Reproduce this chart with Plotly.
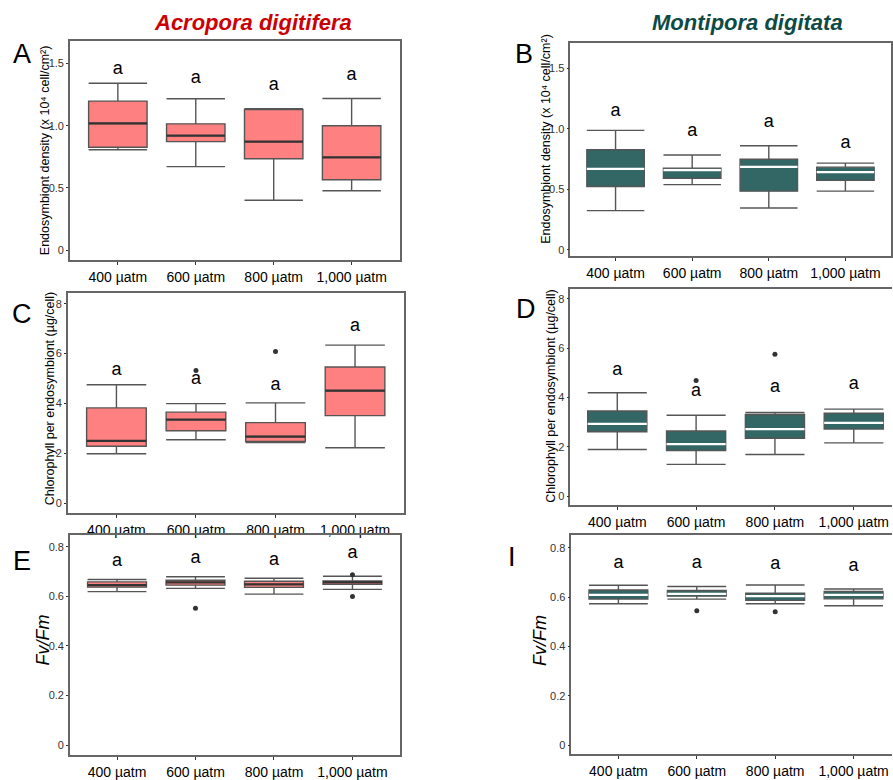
import plotly.graph_objects as go

W, H = 893, 780

categories = ["400 µatm", "600 µatm", "800 µatm", "1,000 µatm"]
positions = [0, 1, 2, 3]

# Panel A - Acropora endosymbiont density
A_low = [0.806, 0.671, 0.400, 0.477]
A_q1 = [0.827, 0.872, 0.734, 0.565]
A_med = [1.018, 0.920, 0.872, 0.745]
A_q3 = [1.198, 1.015, 1.130, 0.999]
A_up = [1.341, 1.217, 1.137, 1.219]
A_letter_y = [1.45, 1.38, 1.32, 1.40]
A_out_x, A_out_y = [], []

# Panel B - Montipora endosymbiont density
B_low = [0.323, 0.538, 0.345, 0.484]
B_q1 = [0.522, 0.590, 0.484, 0.573]
B_med = [0.668, 0.658, 0.685, 0.641]
B_q3 = [0.826, 0.674, 0.747, 0.682]
B_up = [0.986, 0.783, 0.859, 0.715]
B_letter_y = [1.14, 0.98, 1.05, 0.88]
B_out_x, B_out_y = [], []

# Panel C - Acropora chlorophyll
C_low = [1.98, 2.54, 2.43, 2.22]
C_q1 = [2.28, 2.90, 2.47, 3.51]
C_med = [2.50, 3.35, 2.67, 4.51]
C_q3 = [3.82, 3.65, 3.23, 5.46]
C_up = [4.75, 3.99, 4.02, 6.34]
C_letter_y = [5.34, 4.96, 4.72, 7.08]
C_out_x, C_out_y = [1, 2], [5.32, 6.08]

# Panel D - Montipora chlorophyll
D_low = [1.89, 1.29, 1.69, 2.16]
D_q1 = [2.61, 1.85, 2.35, 2.72]
D_med = [2.93, 2.11, 2.72, 2.97]
D_q3 = [3.45, 2.64, 3.31, 3.36]
D_up = [4.19, 3.28, 3.39, 3.53]
D_letter_y = [5.08, 4.24, 4.41, 4.52]
D_out_x, D_out_y = [1, 2], [4.69, 5.75]

# Panel E - Acropora Fv/Fm
E_low = [0.619, 0.632, 0.609, 0.628]
E_q1 = [0.637, 0.645, 0.636, 0.648]
E_med = [0.645, 0.656, 0.648, 0.656]
E_q3 = [0.658, 0.665, 0.661, 0.662]
E_up = [0.668, 0.679, 0.673, 0.681]
E_letter_y = [0.742, 0.754, 0.744, 0.771]
E_out_x, E_out_y = [1, 3, 3], [0.552, 0.687, 0.599]

# Panel F - Montipora Fv/Fm
F_low = [0.573, 0.592, 0.573, 0.565]
F_q1 = [0.592, 0.604, 0.587, 0.593]
F_med = [0.609, 0.613, 0.604, 0.609]
F_q3 = [0.629, 0.627, 0.616, 0.623]
F_up = [0.648, 0.643, 0.649, 0.633]
F_letter_y = [0.736, 0.736, 0.733, 0.723]
F_out_x, F_out_y = [1, 2], [0.545, 0.541]

RED = "#FF8080"
TEAL = "#336766"
FONT = "Liberation Sans, Arial, sans-serif"

panels = [
    ("A", (A_low, A_q1, A_med, A_q3, A_up, A_letter_y, A_out_x, A_out_y), RED, "#333333",
     (70, 400, 41, 263), [-0.08, 1.685], [-0.615, 3.615], [0, 0.5, 1.0, 1.5], ["0", "0.5", "1.0", "1.5"], True),
    ("B", (B_low, B_q1, B_med, B_q3, B_up, B_letter_y, B_out_x, B_out_y), TEAL, "white",
     (571, 892, 43, 259), [-0.052, 1.712], [-0.59, 3.595], [0, 0.5, 1.0, 1.5], ["0", "0.5", "1.0", "1.5"], True),
    ("C", (C_low, C_q1, C_med, C_q3, C_up, C_letter_y, C_out_x, C_out_y), RED, "#333333",
     (68, 404, 296, 519), [-0.40, 8.45], [-0.61, 3.61], [0, 2, 4, 6, 8], ["0", "2", "4", "6", "8"], True),
    ("D", (D_low, D_q1, D_med, D_q3, D_up, D_letter_y, D_out_x, D_out_y), TEAL, "white",
     (571, 893, 292, 511), [-0.36, 8.41], [-0.595, 3.485], [0, 2, 4, 6, 8], ["0", "2", "4", "6", "8"], False),
    ("E", (E_low, E_q1, E_med, E_q3, E_up, E_letter_y, E_out_x, E_out_y), RED, "#333333",
     (70, 400, 541, 764), [-0.04, 0.848], [-0.6, 3.6], [0, 0.2, 0.4, 0.6, 0.8], ["0", "0.2", "0.4", "0.6", "0.8"], True),
    ("F", (F_low, F_q1, F_med, F_q3, F_up, F_letter_y, F_out_x, F_out_y), TEAL, "white",
     (572, 893, 541, 763), [-0.037, 0.853], [-0.6, 3.49], [0, 0.2, 0.4, 0.6, 0.8], ["0", "0.2", "0.4", "0.6", "0.8"], False),
]

fig = go.Figure()
layout = {}
BOXW = 0.75

for i, (name, data, fill, medc, box, yr, xr, yt, ytt, right) in enumerate(panels):
    low, q1, med, q3, up, ly, ox, oy = data
    n = "" if i == 0 else str(i + 1)
    xa, ya = "x" + n, "y" + n
    fig.add_trace(go.Box(
        x=positions, q1=q1, median=med, q3=q3, lowerfence=low, upperfence=up,
        width=BOXW, whiskerwidth=1, fillcolor=fill,
        line=dict(color="#555555", width=1.4), boxpoints=False,
        xaxis=xa, yaxis=ya, showlegend=False, hoverinfo="skip"))
    mx, my = [], []
    for p, m in zip(positions, med):
        mx += [p - BOXW / 2, p + BOXW / 2, None]
        my += [m, m, None]
    fig.add_trace(go.Scatter(x=mx, y=my, mode="lines", line=dict(color=medc, width=2.2),
                             xaxis=xa, yaxis=ya, showlegend=False, hoverinfo="skip"))
    if ox:
        fig.add_trace(go.Scatter(x=ox, y=oy, mode="markers",
                                 marker=dict(color="#333333", size=5),
                                 xaxis=xa, yaxis=ya, showlegend=False, hoverinfo="skip"))
    fig.add_trace(go.Scatter(x=positions, y=ly, mode="text", text=["a"] * 4,
                             textfont=dict(family=FONT, size=18, color="black"),
                             textposition="middle center",
                             xaxis=xa, yaxis=ya, showlegend=False, hoverinfo="skip"))
    x0, x1, y0, y1 = box
    layout["xaxis" + n] = dict(
        domain=[x0 / W, min(x1 / W, 1.0)], range=xr, anchor=ya,
        tickvals=positions, ticktext=categories, ticks="outside", ticklen=3,
        tickcolor="#333333", tickfont=dict(family=FONT, size=14, color="black"),
        showline=True, linecolor="#666666", linewidth=1.5, mirror=True,
        showgrid=False, zeroline=False, fixedrange=True)
    layout["yaxis" + n] = dict(
        domain=[1 - y1 / H, 1 - y0 / H], range=yr, anchor=xa,
        tickvals=yt, ticktext=ytt, ticks="outside", ticklen=2,
        tickcolor="#333333", tickfont=dict(family=FONT, size=11, color="#333333"),
        showline=True, linecolor="#666666", linewidth=1.5, mirror=right,
        showgrid=False, zeroline=False, fixedrange=True)

annotations = []

def ann(text, x, y, size, color="black", angle=0, italic=False, bold=False):
    t = text
    if bold:
        t = "<b>" + t + "</b>"
    if italic:
        t = "<i>" + t + "</i>"
    annotations.append(dict(text=t, x=x / W, y=1 - y / H, xref="paper", yref="paper",
                            xanchor="center", yanchor="middle", showarrow=False,
                            textangle=angle, font=dict(family=FONT, size=size, color=color)))

ann("Acropora digitifera", 253, 23, 22, color="#CC0000", italic=True, bold=True)
ann("Montipora digitata", 748, 23, 22, color="#0E4A45", italic=True, bold=True)

ann("A", 22, 55, 27)
ann("B", 525, 55, 27)
ann("C", 22, 318, 27)
ann("D", 527, 313, 27)
ann("E", 22, 568, 27)
ann("I", 513, 564, 27)

ytitle_endo = "Endosymbiont density (x 10⁴ cell/cm²)"
ytitle_chl = "Chlorophyll per endosymbiont (µg/cell)"
ann(ytitle_endo, 45, 152, 12.5, angle=-90)
ann(ytitle_endo, 547, 140, 12.5, angle=-90)
ann(ytitle_chl, 50, 403, 12.5, angle=-90)
ann(ytitle_chl, 552, 400, 12.5, angle=-90)
ann("Fv/Fm", 43, 647, 18, angle=-90, italic=True)
ann("Fv/Fm", 540, 648, 18, angle=-90, italic=True)

fig.update_layout(
    width=W, height=H, margin=dict(l=0, r=0, t=0, b=0),
    paper_bgcolor="white", plot_bgcolor="white",
    showlegend=False, annotations=annotations, **layout)

fig.write_html("out.html", config={"displayModeBar": False},
               post_script="document.body.style.margin='0';document.body.style.overflow='hidden';")
